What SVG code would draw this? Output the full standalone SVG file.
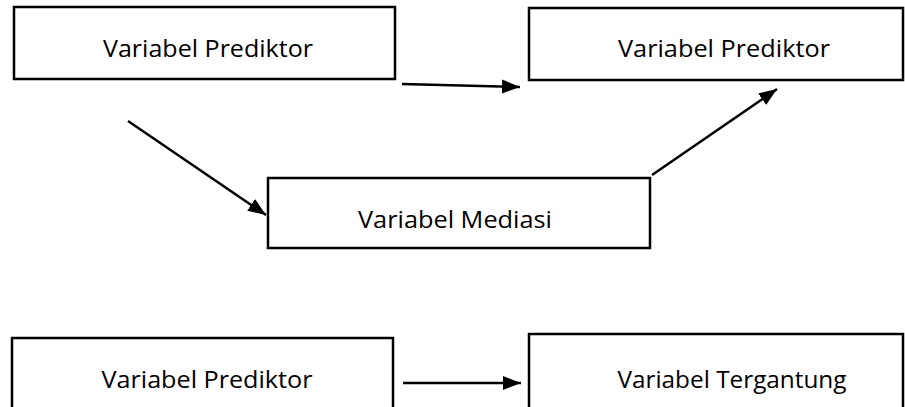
<svg xmlns="http://www.w3.org/2000/svg" width="905" height="407" viewBox="0 0 905 407">
<style>
.box{fill:#fff;stroke:#000;stroke-width:2.5}
.lbl{font-family:"Open Sans","Liberation Sans",Arial,sans-serif;font-size:24px;fill:#000;text-anchor:middle}
.con{stroke:#000;stroke-width:2.5;fill:none;marker-end:url(#ah)}
</style>
<defs>
<marker id="ah" markerUnits="userSpaceOnUse" markerWidth="20" markerHeight="16" refX="18" refY="8" orient="auto">
<path d="M0,1 L18,8 L0,15 Z" fill="#000"/>
</marker>
</defs>
<rect width="905" height="407" fill="#fff"/>
<g id="node-prediktor1">
<rect class="box" x="14" y="7" width="381" height="72"/>
<text class="lbl" x="208" y="57" textLength="210" lengthAdjust="spacingAndGlyphs">Variabel Prediktor</text>
</g>
<g id="node-prediktor2">
<rect class="box" x="529" y="8" width="374" height="72"/>
<text class="lbl" x="724" y="57" textLength="212" lengthAdjust="spacingAndGlyphs">Variabel Prediktor</text>
</g>
<g id="node-mediasi">
<rect class="box" x="268" y="178" width="382" height="70"/>
<text class="lbl" x="455" y="228" textLength="194" lengthAdjust="spacingAndGlyphs">Variabel Mediasi</text>
</g>
<g id="node-prediktor3">
<rect class="box" x="12" y="338" width="381" height="90"/>
<text class="lbl" x="207" y="388" textLength="211" lengthAdjust="spacingAndGlyphs">Variabel Prediktor</text>
</g>
<g id="node-tergantung">
<rect class="box" x="529" y="334" width="374" height="94"/>
<text class="lbl" x="732" y="388" textLength="229" lengthAdjust="spacingAndGlyphs">Variabel Tergantung</text>
</g>
<g id="connectors">
<line class="con" x1="402" y1="84" x2="520" y2="87"/>
<line class="con" x1="128" y1="121" x2="266" y2="215"/>
<line class="con" x1="652" y1="175" x2="777" y2="89"/>
<line class="con" x1="403" y1="383" x2="521" y2="383"/>
</g>
</svg>
